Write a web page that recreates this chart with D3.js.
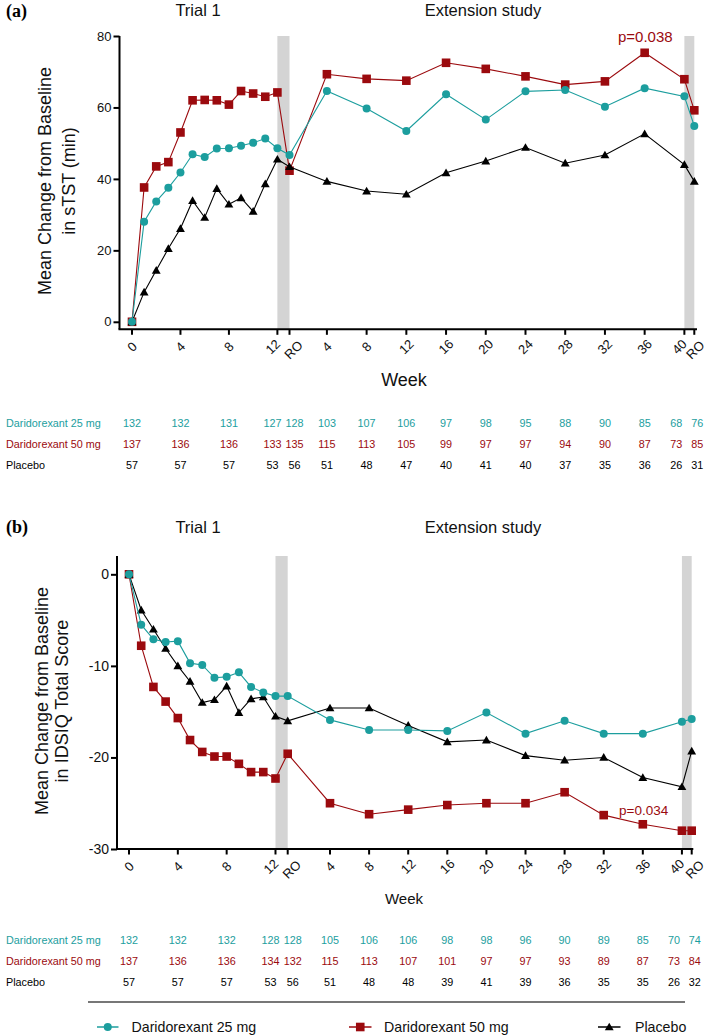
<!DOCTYPE html>
<html>
<head>
<meta charset="utf-8">
<script src="https://cdn.jsdelivr.net/npm/d3@7"></script>
<style>
  html, body { margin: 0; padding: 0; background: #fff; }
  svg { display: block; font-family: "Liberation Sans", Arial, sans-serif; }
</style>
</head>
<body>
<svg id="chart" width="707" height="1036"></svg>
<script>
// ---------------- DATA ----------------
// Trial 1 weeks (13 = run-out "RO"), Extension weeks (41 = run-out "RO")
const trialWeeks = [0,1,2,3,4,5,6,7,8,9,10,11,12,13];
const extWeeks   = [4,8,12,16,20,24,28,32,36,40,41];

const trialTicks = [0,4,8,12,13];
const trialTickLabels = ["0","4","8","12","RO"];
const extTicks = [4,8,12,16,20,24,28,32,36,40,41];
const extTickLabels = ["4","8","12","16","20","24","28","32","36","40","RO"];

const seriesNames = ["Daridorexant 25 mg","Daridorexant 50 mg","Placebo"];

// Panel (a): sTST (min)
const a25Trial = [0,28.0,33.7,37.5,41.8,46.9,46.1,48.5,48.6,49.3,50.1,51.3,48.6,46.7];
const a25Ext   = [64.6,59.7,53.4,63.7,56.6,64.5,64.9,60.2,65.4,63.1,54.8];
const a50Trial = [0,37.6,43.5,44.7,53.0,62.0,62.1,62.0,60.8,64.6,63.9,63.0,64.2,42.3];
const a50Ext   = [69.3,68.0,67.5,72.5,70.8,68.7,66.4,67.3,75.3,67.9,59.2];
const aPlTrial = [0,8.3,14.4,20.5,26.1,33.9,29.2,37.3,32.9,34.7,30.9,38.6,45.5,43.4];
const aPlExt   = [39.3,36.6,35.7,41.7,45.0,48.8,44.4,46.7,52.6,44.0,39.3];
const aYTicks  = [0,20,40,60,80];

// Panel (b): IDSIQ total score
const b25Trial = [0,-5.5,-7.1,-7.4,-7.3,-9.7,-9.9,-11.3,-11.2,-10.7,-12.3,-12.9,-13.3,-13.3];
const b25Ext   = [-15.9,-17.0,-17.0,-17.1,-15.1,-17.4,-16.0,-17.4,-17.4,-16.1,-15.8];
const b50Trial = [0,-7.8,-12.3,-13.9,-15.7,-18.1,-19.4,-19.9,-19.9,-20.7,-21.6,-21.6,-22.3,-19.6];
const b50Ext   = [-25.0,-26.2,-25.7,-25.2,-25.0,-25.0,-23.8,-26.3,-27.3,-28.0,-28.0];
const bPlTrial = [0,-3.9,-6.0,-8.1,-10.0,-11.7,-14.0,-13.7,-12.2,-15.1,-13.6,-13.4,-15.5,-16.0];
const bPlExt   = [-14.6,-14.6,-16.5,-18.3,-18.1,-19.8,-20.3,-20.0,-22.2,-23.2,-19.3];
const bYTicks  = [0,-10,-20,-30];

// Numbers of patients (columns: trial 0,4,8,12,RO ; ext 4..40,RO)
const nColTrial = [0,4,8,12,13];
const nColExt   = [4,8,12,16,20,24,28,32,36,40,41];
const nA25 = [132,132,131,127,128,103,107,106,97,98,95,88,90,85,68,76];
const nA50 = [137,136,136,133,135,115,113,105,99,97,97,94,90,87,73,85];
const nAPl = [57,57,57,53,56,51,48,47,40,41,40,37,35,36,26,31];
const nB25 = [132,132,132,128,128,105,106,106,98,98,96,90,89,85,70,74];
const nB50 = [137,136,136,134,132,115,113,107,101,97,97,93,89,87,73,84];
const nBPl = [57,57,57,53,56,51,48,48,39,41,39,36,35,35,26,32];

// ---------------- STYLE ----------------
const TEAL = "#1c9e9e", RED = "#9b0a0e", BLACK = "#000";
const BAND = "#d4d4d4";
const colors = [TEAL, RED, BLACK];
const shapes = ["circle","square","triangle"];

const svg = d3.select("#chart");

function marker(g, shape, color, cx, cy) {
  if (shape === "circle") {
    g.append("circle").attr("cx", cx).attr("cy", cy).attr("r", 4).attr("fill", color);
  } else if (shape === "square") {
    g.append("rect").attr("x", cx - 4.3).attr("y", cy - 4.3).attr("width", 8.6).attr("height", 8.6).attr("fill", color);
  } else {
    g.append("path").attr("d", d3.symbol(d3.symbolTriangle, 34)()).attr("transform", `translate(${cx},${cy + 0.8})`).attr("fill", color);
  }
}

function drawPanel(cfg) {
  const g = svg.append("g");
  const xT = d3.scaleLinear().domain([0, 13]).range(cfg.xTrialRange);
  const xE = d3.scaleLinear().domain([4, 41]).range(cfg.xExtRange);
  const y = d3.scaleLinear().domain(cfg.yDomain).range(cfg.yRange);
  const yBottom = cfg.yRange[0], yTop = cfg.yRange[1];

  // gray bands (run-out periods)
  g.append("rect").attr("x", xT(12)).attr("y", yTop).attr("width", xT(13) - xT(12)).attr("height", yBottom - yTop).attr("fill", BAND);
  g.append("rect").attr("x", xE(40)).attr("y", yTop).attr("width", xE(41) - xE(40)).attr("height", yBottom - yTop).attr("fill", BAND);

  // y axis
  const yAxis = g.append("g").attr("transform", `translate(${cfg.axisX},0)`)
    .call(d3.axisLeft(y).tickValues(cfg.yTicks).tickSize(6).tickSizeOuter(0).tickFormat(d => String(d)));
  yAxis.select(".domain").attr("stroke-width", 2).attr("d", `M0,${yTop}V${yBottom}`);
  yAxis.selectAll(".tick line").attr("stroke-width", 2);
  yAxis.selectAll(".tick text").attr("font-size", cfg.yTickFont).attr("font-family", "Liberation Sans, Arial, sans-serif").attr("x", -8).attr("fill", "#111");

  // x axis line
  g.append("line").attr("x1", cfg.axisX - 1).attr("x2", cfg.axisEnd).attr("y1", yBottom).attr("y2", yBottom).attr("stroke", "#000").attr("stroke-width", 2);

  // x ticks (trial + extension), labels rotated -45 degrees
  const xticks = [];
  trialTicks.forEach((t, i) => xticks.push({x: xT(t), label: trialTickLabels[i], nudge: t === 12 ? -4.5 : (t === 13 ? 4 : 0), dy: t === 13 ? 3 : 0}));
  extTicks.forEach((t, i) => xticks.push({x: xE(t), label: extTickLabels[i], nudge: t === 40 ? -5 : (t === 41 ? cfg.roNudge : 0), dy: t === 41 ? 3 : 0}));
  const tk = g.append("g");
  xticks.forEach(d => {
    tk.append("line").attr("x1", d.x).attr("x2", d.x).attr("y1", yBottom).attr("y2", yBottom + 5.5).attr("stroke", "#000").attr("stroke-width", 2);
    tk.append("text").attr("transform", `translate(${d.x + d.nudge},${yBottom + 17.5 + d.dy}) rotate(-45)`)
      .attr("x", 0).attr("y", 4.5)
      .attr("text-anchor", "middle").attr("font-size", 13).attr("fill", "#111").text(d.label);
  });

  // series lines + markers
  const line = d3.line().x(d => d[0]).y(d => d[1]);
  const order = [1, 2, 0];
  order.forEach(si => {
    const s = cfg.series[si];
    const pts = trialWeeks.map((w, i) => [xT(w), y(s[0][i])]).concat(extWeeks.map((w, i) => [xE(w), y(s[1][i])]));
    g.append("path").attr("d", line(pts)).attr("fill", "none").attr("stroke", colors[si]).attr("stroke-width", 1.1);
    pts.forEach(p => marker(g, shapes[si], colors[si], p[0], p[1]));
  });

  // labels
  g.append("text").attr("x", 6).attr("y", cfg.letterY).attr("font-family", "Liberation Serif, Times New Roman, serif").attr("font-weight", "bold").attr("font-size", 18).text(cfg.letter);
  g.append("text").attr("x", 198).attr("y", cfg.titleY).attr("text-anchor", "middle").attr("font-size", 16.5).attr("fill", "#111").text("Trial 1");
  g.append("text").attr("x", 483).attr("y", cfg.titleY).attr("text-anchor", "middle").attr("font-size", 16.5).attr("fill", "#111").text("Extension study");
  cfg.yLabel.forEach((t, i) => {
    g.append("text").attr("transform", `translate(${cfg.yLabelX[i]},${cfg.yLabelCY}) rotate(-90)`).attr("text-anchor", "middle")
      .attr("font-size", 18).attr("fill", "#111").text(t);
  });
  g.append("text").attr("x", 404).attr("y", cfg.weekY).attr("text-anchor", "middle").attr("font-size", cfg.weekFont).attr("fill", "#111").text("Week");
  g.append("text").attr("x", cfg.pX).attr("y", cfg.pY).attr("font-size", cfg.pFont).attr("fill", RED).text(cfg.pText);

  // numbers-at-risk table
  const cols = nColTrial.map(w => ({x: xT(w), nudge: w === 12 ? -5 : (w === 13 ? 5 : 0)}))
    .concat(nColExt.map(w => ({x: xE(w), nudge: w === 40 ? -8 : (w === 41 ? 3 : 0)})));
  cfg.table.forEach((row, ri) => {
    const ty = cfg.tableY + ri * 21;
    g.append("text").attr("x", 6).attr("y", ty).attr("font-size", 10.8).attr("fill", colors[ri]).text(seriesNames[ri]);
    row.forEach((n, ci) => {
      g.append("text").attr("x", cols[ci].x + cols[ci].nudge).attr("y", ty).attr("text-anchor", "middle")
        .attr("font-size", 10.8).attr("fill", colors[ri]).text(n);
    });
  });
}

drawPanel({
  letter: "(a)", letterY: 17, titleY: 16,
  xTrialRange: [132, 289.5], xExtRange: [326.9, 694.3],
  yDomain: [-2.1, 80], yRange: [329.3, 36], yTicks: aYTicks, yTickFont: 13,
  axisX: 119.5, axisEnd: 697, roNudge: 1,
  series: [[a25Trial, a25Ext], [a50Trial, a50Ext], [aPlTrial, aPlExt]],
  yLabel: ["Mean Change from Baseline", "in sTST (min)"], yLabelX: [51, 75], yLabelCY: 181,
  weekY: 386, weekFont: 18,
  pText: "p=0.038", pX: 618, pY: 42, pFont: 15,
  table: [nA25, nA50, nAPl], tableY: 427
});

drawPanel({
  letter: "(b)", letterY: 533, titleY: 533,
  xTrialRange: [129, 287.7], xExtRange: [330, 691.7],
  yDomain: [-30, 2], yRange: [849, 556], yTicks: bYTicks, yTickFont: 14,
  axisX: 117, axisEnd: 693.3, roNudge: 3,
  series: [[b25Trial, b25Ext], [b50Trial, b50Ext], [bPlTrial, bPlExt]],
  yLabel: ["Mean Change from Baseline", "in IDSIQ Total Score"], yLabelX: [48, 68], yLabelCY: 701,
  weekY: 904, weekFont: 15,
  pText: "p=0.034", pX: 619, pY: 815, pFont: 13.5,
  table: [nB25, nB50, nBPl], tableY: 944
});

// separator and legend
svg.append("line").attr("x1", 88).attr("x2", 685).attr("y1", 1002).attr("y2", 1002).attr("stroke", "#777").attr("stroke-width", 2);
const legendItems = [
  {x1: 97, x2: 118.5, text: 131.5},
  {x1: 349, x2: 371.5, text: 384},
  {x1: 598, x2: 620.5, text: 635}
];
const lgd = svg.append("g");
legendItems.forEach((d, i) => {
  lgd.append("line").attr("x1", d.x1).attr("x2", d.x2).attr("y1", 1027).attr("y2", 1027).attr("stroke", colors[i]).attr("stroke-width", 1.5);
  marker(lgd, shapes[i], colors[i], (d.x1 + d.x2) / 2, 1027);
  lgd.append("text").attr("x", d.text).attr("y", 1032).attr("font-size", 14.2).attr("fill", "#111").text(seriesNames[i]);
});
</script>
</body>
</html>
